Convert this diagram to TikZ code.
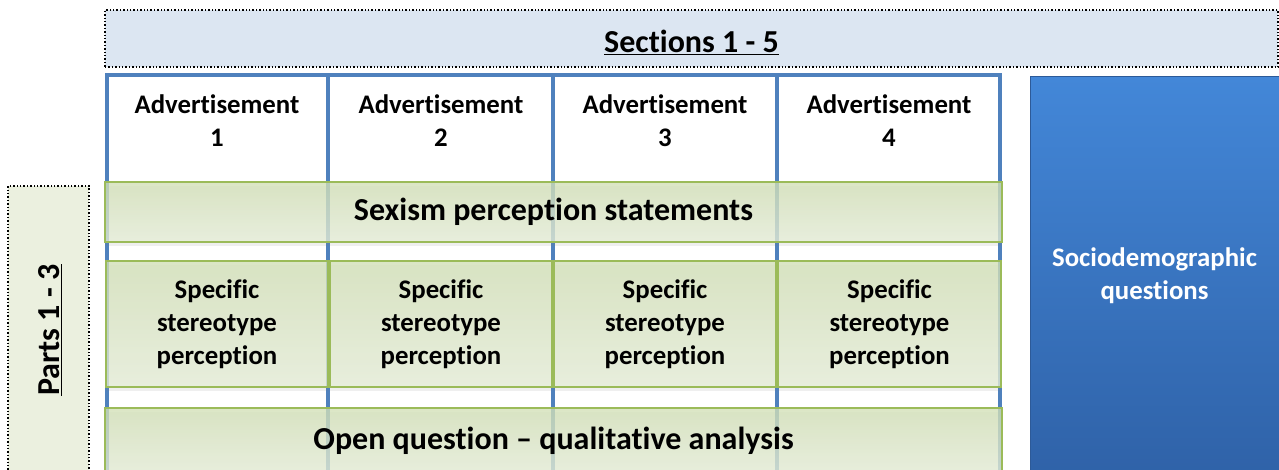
\documentclass[tikz,border=0pt]{standalone}
\usepackage{fontspec}
\setmainfont{Carlito}[RawFeature={-liga;-clig;-calt}]
\usetikzlibrary{shadows}

\definecolor{secblue}{HTML}{DCE6F2}
\definecolor{frameblue}{HTML}{4F81BD}
\definecolor{greentop}{HTML}{D2E0B6}
\definecolor{greenbot}{HTML}{E6EED8}
\definecolor{greenline}{HTML}{9BBB59}
\definecolor{partfill}{HTML}{EBF0DF}
\definecolor{sociotop}{HTML}{4387D8}
\definecolor{sociobot}{HTML}{2F62A8}
\definecolor{socioline}{HTML}{2D5A98}

\tikzset{
  boldtext/.style={font=\bfseries\fontsize{26.8}{33}\selectfont, align=center},
  bigtext/.style={font=\bfseries\fontsize{32}{38}\selectfont, align=center},
  dotbox/.style={draw=black, dotted, line width=1.4pt},
  colbox/.style={draw=frameblue, line width=4.5pt, fill=white},
  greenbar/.style={draw=greenline, line width=1.6pt, top color=greentop, bottom color=greenbot,
    fill opacity=0.78, text opacity=1,
    drop shadow={opacity=0.12, shadow xshift=0pt, shadow yshift=-4pt}},
  sociobox/.style={draw=socioline, line width=1pt, top color=sociotop, bottom color=sociobot, text=white}
}

\begin{document}
\begin{tikzpicture}[x=1pt, y=-1pt]
    \useasboundingbox (0,0) rectangle (1279,470);
    \clip (0,0) rectangle (1279,470);

    % Sections banner on top
    \node[dotbox, fill=secblue, minimum width=1173, minimum height=57] (sections) at (691.5,38.5) {};
    \node[bigtext] (sectxt) at (691.5,42) {\underline{Sections 1 - 5}};

    % Blue frame, one column per advertisement
    \node[colbox, minimum width=221, minimum height=420] (col1) at (217.5,285) {};
    \node[colbox, minimum width=225, minimum height=420] (col2) at (440.5,285) {};
    \node[colbox, minimum width=224, minimum height=420] (col3) at (665,285) {};
    \node[colbox, minimum width=223, minimum height=420] (col4) at (888.5,285) {};

    % Header of each column
    \node[boldtext] (ad1) at (217,120.5) {Advertisement\\1};
    \node[boldtext] (ad2) at (441,120.5) {Advertisement\\2};
    \node[boldtext] (ad3) at (665,120.5) {Advertisement\\3};
    \node[boldtext] (ad4) at (889,120.5) {Advertisement\\4};

    % Green bars over the columns
    \node[greenbar, bigtext, minimum width=897, minimum height=60] (sexism) at (553.5,212) {Sexism perception statements};

    \node[greenbar, boldtext, minimum width=222, minimum height=126] (spec1) at (217,324) {Specific\\stereotype\\perception};
    \node[greenbar, boldtext, minimum width=222, minimum height=126] (spec2) at (441,324) {Specific\\stereotype\\perception};
    \node[greenbar, boldtext, minimum width=222, minimum height=126] (spec3) at (665,324) {Specific\\stereotype\\perception};
    \node[greenbar, boldtext, minimum width=223, minimum height=126] (spec4) at (889.5,324) {Specific\\stereotype\\perception};

    \node[greenbar, bigtext, minimum width=897, minimum height=66] (openq) at (553.5,441) {Open question -- qualitative analysis};

    % Sociodemographic block on the right
    \node[sociobox, boldtext, minimum width=249, minimum height=398] (socio) at (1154.5,276) {Sociodemographic\\questions};

    % Parts label on the left
    \node[dotbox, fill=partfill, minimum width=81, minimum height=290] (parts) at (48.5,331) {};
    \node[bigtext, rotate=90] (partstxt) at (50,330) {\underline{Parts 1 - 3}};
  \end{tikzpicture}
\end{document}
